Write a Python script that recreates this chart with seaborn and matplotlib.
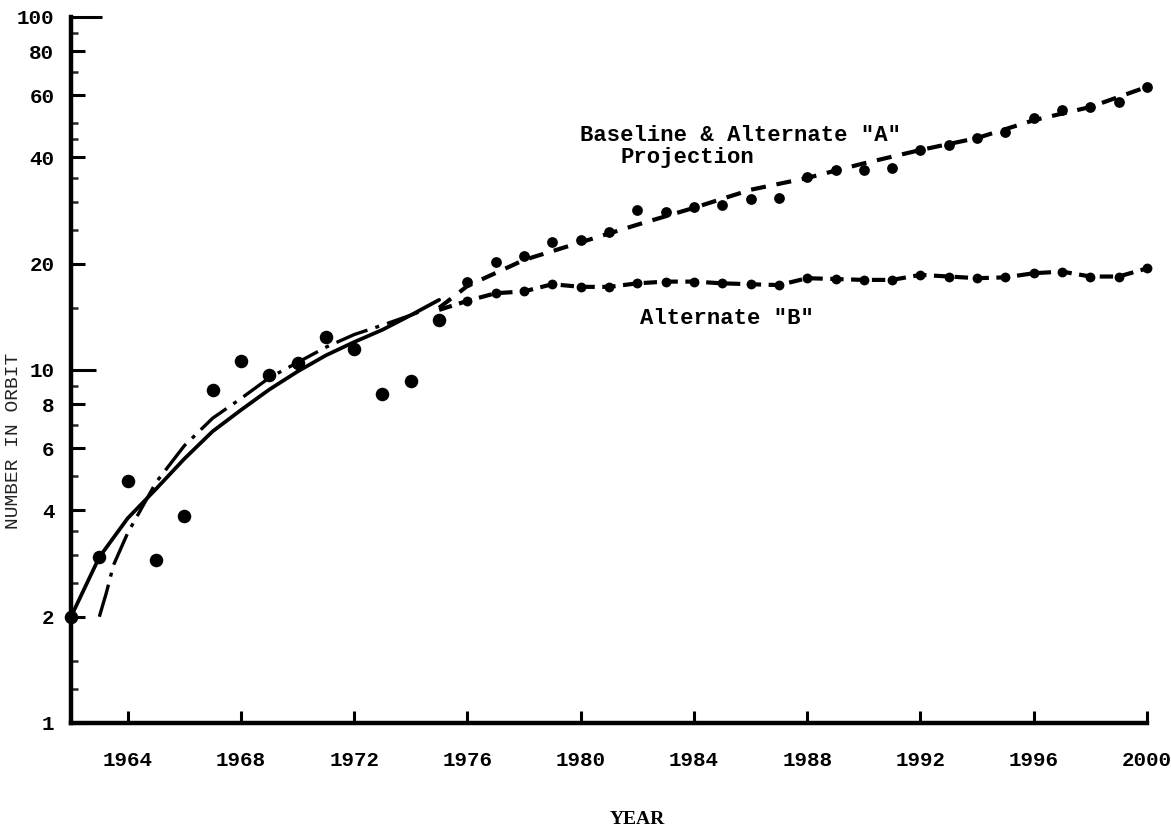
import matplotlib
matplotlib.use("Agg")
import matplotlib.pyplot as plt
import seaborn as sns
import pandas as pd
from matplotlib.ticker import FixedLocator, FixedFormatter, NullFormatter

# ---------------- data ----------------
hist_years = [1962, 1963, 1964, 1965, 1966, 1967, 1968, 1969, 1970, 1971, 1972, 1973, 1974, 1975]
hist_counts = [2.0, 2.95, 4.85, 2.9, 3.86, 8.8, 10.6, 9.7, 10.5, 12.4, 11.5, 8.55, 9.3, 13.9]

fit_years = [1962, 1963, 1964, 1965, 1966, 1967, 1968, 1969, 1970, 1971, 1972, 1973, 1974, 1975]
fit_counts = [2.0, 2.95, 3.8, 4.6, 5.6, 6.7, 7.7, 8.8, 9.9, 11.0, 12.0, 13.0, 14.3, 15.8]

alt_fit_years = [1963, 1963.25, 1963.5, 1964, 1965, 1966, 1967, 1968, 1969, 1970, 1971, 1972, 1973, 1974, 1974.5]
alt_fit_counts = [2.0, 2.34, 2.8, 3.45, 4.8, 6.1, 7.3, 8.3, 9.5, 10.5, 11.6, 12.6, 13.4, 14.3, 14.8]

proj_years = list(range(1976, 2001))
proj_a_counts = [17.8, 20.2, 21.0, 23.0, 23.4, 24.6, 28.4, 28.0, 29.0, 29.3, 30.5, 30.7,
                 35.2, 36.9, 36.9, 37.4, 42.0, 43.4, 45.4, 47.2, 51.7, 54.5, 55.6, 57.4, 63.4]
proj_b_counts = [15.7, 16.5, 16.7, 17.5, 17.2, 17.2, 17.6, 17.8, 17.8, 17.6, 17.5, 17.4,
                 18.2, 18.1, 18.0, 18.0, 18.6, 18.4, 18.2, 18.3, 18.8, 19.0, 18.4, 18.4, 19.4]

trend_a_years = [1975, 1976, 1978, 1980, 1982, 1984, 1986, 1988, 1990, 1992, 1994, 1996, 1998, 2000]
trend_a_counts = [15.0, 17.3, 20.5, 23.0, 25.8, 28.8, 32.4, 35.0, 38.5, 42.0, 45.4, 51.0, 55.6, 63.4]

trend_b_years = [1975] + proj_years
trend_b_counts = [14.8] + proj_b_counts

y_major = [1, 2, 4, 6, 8, 10, 20, 40, 60, 80, 100]
y_minor = [1.25, 1.5, 2.5, 3, 3.5, 5, 7, 9, 15, 25, 30, 35, 45, 50, 70, 90]
x_ticks = [1964, 1968, 1972, 1976, 1980, 1984, 1988, 1992, 1996, 2000]

label_a = 'Baseline & Alternate "A"'
label_a2 = 'Projection'
label_b = 'Alternate "B"'

# ---------------- plotting ----------------
sns.set_style("ticks")
plt.rcParams['font.family'] = ['Liberation Mono', 'DejaVu Sans']

W, H = 1171, 836
fig = plt.figure(figsize=(W / 100, H / 100), dpi=100)
ax = fig.add_axes([71 / W, (H - 723) / H, (1147 - 71) / W, 706 / H])

hist_df = pd.DataFrame({"year": hist_years, "count": hist_counts})
fit_df = pd.DataFrame({"year": fit_years, "count": fit_counts})
alt_df = pd.DataFrame({"year": alt_fit_years, "count": alt_fit_counts})
proj_df = pd.DataFrame({"year": proj_years, "a": proj_a_counts, "b": proj_b_counts})
ta_df = pd.DataFrame({"year": trend_a_years, "count": trend_a_counts})
tb_df = pd.DataFrame({"year": trend_b_years, "count": trend_b_counts})

ink = "black"

sns.lineplot(data=fit_df, x="year", y="count", ax=ax, color=ink, lw=2.7,
             estimator=None, sort=False)
sns.lineplot(data=alt_df, x="year", y="count", ax=ax, color=ink, lw=2.4,
             estimator=None, sort=False)
ax.lines[-1].set_linestyle((0, (10, 2.5, 1.2, 2.5)))

sns.lineplot(data=ta_df, x="year", y="count", ax=ax, color=ink, lw=3.0,
             estimator=None, sort=False)
ax.lines[-1].set_linestyle((0, (3.6, 2.6)))
ax.lines[-1].set_clip_on(False)
sns.lineplot(data=tb_df, x="year", y="count", ax=ax, color=ink, lw=3.0,
             estimator=None, sort=False)
ax.lines[-1].set_linestyle((0, (3.2, 1.8)))
ax.lines[-1].set_clip_on(False)

sns.scatterplot(data=proj_df, x="year", y="a", ax=ax, color=ink, s=60,
                edgecolor=ink, linewidth=0, zorder=4, clip_on=False)
sns.scatterplot(data=proj_df, x="year", y="b", ax=ax, color=ink, s=50,
                edgecolor=ink, linewidth=0, zorder=4, clip_on=False)
sns.scatterplot(data=hist_df, x="year", y="count", ax=ax, color=ink, s=95,
                edgecolor=ink, linewidth=0, zorder=5, clip_on=False)

ax.set_yscale("log")
ax.set_ylim(1, 100)
ax.set_xlim(1962, 2000)

ax.yaxis.set_major_locator(FixedLocator(y_major))
ax.yaxis.set_major_formatter(FixedFormatter([str(v) for v in y_major]))
ax.yaxis.set_minor_locator(FixedLocator(y_minor))
ax.yaxis.set_minor_formatter(NullFormatter())
ax.xaxis.set_major_locator(FixedLocator(x_ticks))
ax.xaxis.set_major_formatter(FixedFormatter([str(v) for v in x_ticks]))
ax.xaxis.set_minor_locator(FixedLocator([]))

for s in ("top", "right"):
    ax.spines[s].set_visible(False)
for s in ("left", "bottom"):
    ax.spines[s].set_linewidth(3.2)
    ax.spines[s].set_color(ink)

ax.tick_params(axis="y", which="major", direction="in", length=10, width=2.2,
               pad=12, labelsize=15, colors=ink)
ax.tick_params(axis="y", which="minor", direction="in", length=5, width=1.8)
ax.tick_params(axis="x", which="major", direction="in", length=9, width=2.2,
               pad=20, labelsize=15, colors=ink)
for lab in ax.get_xticklabels() + ax.get_yticklabels():
    lab.set_fontweight("bold")
    lab.set_family(["Liberation Mono", "DejaVu Sans"])

for t in ax.yaxis.get_major_ticks():
    loc = t.get_loc()
    if loc == 10:
        t.tick1line.set_markersize(18)
    elif loc == 100:
        t.tick1line.set_markersize(22)

ax.set_ylabel("NUMBER IN ORBIT", fontsize=14, family=["Liberation Mono", "DejaVu Sans"],
              color="#222222")
ax.yaxis.set_label_coords(-0.0455, 0.40)
ax.set_xlabel("YEAR", fontsize=14, fontweight="bold",
              family=["Liberation Serif", "DejaVu Serif"], color=ink)
ax.xaxis.set_label_coords(0.526, -0.124)

txt_kw = dict(fontsize=16, fontweight="bold", family=["Liberation Mono", "DejaVu Sans"],
              color=ink, ha="left", va="center")
ax.text(1979.97, 46.3, label_a, **txt_kw)
ax.text(1981.4, 40.1, label_a2, **txt_kw)
ax.text(1982.1, 14.0, label_b, **txt_kw)

fig.savefig("out.png", dpi=100, facecolor="white")
